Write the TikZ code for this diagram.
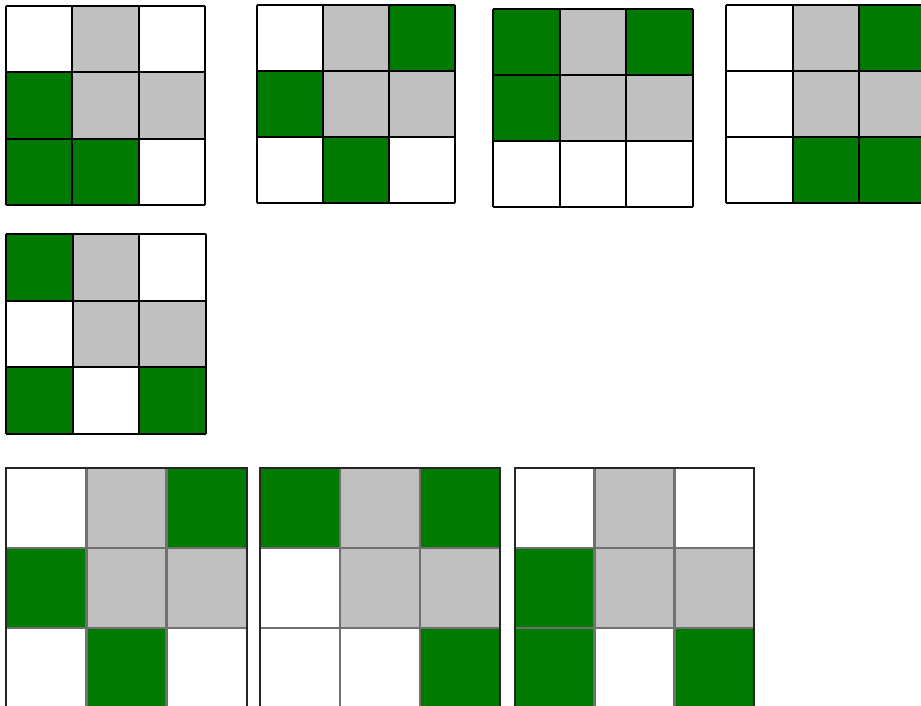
\documentclass[tikz,border=0pt]{standalone}
\definecolor{cW}{RGB}{255,255,255}
\definecolor{cG}{RGB}{192,192,192}
\definecolor{cK}{RGB}{0,122,0}
\definecolor{lineGray}{RGB}{112,112,112}
\tikzset{
  topline/.style={draw=black, line width=2pt},
  botinner/.style={draw=lineGray, line width=2.5pt},
  botouter/.style={draw=black!85, line width=1.5pt}
}
% #1 x, #2 y, #3 cell w, #4 cell h, #5 pattern
\newcommand\cellfill[5]{%
  \foreach \c [count=\i from 0] in {#5}{%
    \pgfmathtruncatemacro\row{floor(\i/3)}%
    \pgfmathtruncatemacro\col{mod(\i,3)}%
    \fill[c\c] ({#1+\col*#3},{#2+\row*#4}) rectangle ++(#3,#4);
  }%
}
\newcommand\topgrid[5]{%
  \cellfill{#1}{#2}{#3}{#4}{#5}%
  \foreach \k in {0,1,2,3}{%
    \draw[topline] ({#1+\k*#3},#2) -- ++(0,{3*#4});
    \draw[topline] (#1,{#2+\k*#4}) -- ++({3*#3},0);
  }%
}
\newcommand\botgrid[5]{%
  \cellfill{#1}{#2}{#3}{#4}{#5}%
  \foreach \k in {1,2}{%
    \draw[botinner] ({#1+\k*#3},#2) -- ++(0,{3*#4});
    \draw[botinner] (#1,{#2+\k*#4}) -- ++({3*#3},0);
  }%
  \draw[botouter] (#1,#2) rectangle ++({3*#3},{3*#4});
}
\begin{document}
\begin{tikzpicture}[x=1pt,y=-1pt]
  \useasboundingbox (0,0) rectangle (921,706);
  \fill[white] (0,0) rectangle (921,706);
  \clip (0,0) rectangle (921,706);
  % top row
  \topgrid{6}{6}{66.4}{66.4}{W,G,W,K,G,G,K,K,W}
  \topgrid{257}{5}{66}{66}{W,G,K,K,G,G,W,K,W}
  \topgrid{493}{9}{66.7}{66}{K,G,K,K,G,G,W,W,W}
  \topgrid{726}{5}{66.5}{66}{W,G,K,W,G,G,W,K,K}
  % second row
  \topgrid{6}{234}{66.7}{66.7}{K,G,W,W,G,G,K,W,K}
  % bottom row
  \botgrid{6}{468}{80.3}{80}{W,G,K,K,G,G,W,K,W}
  \botgrid{260}{468}{80}{80}{K,G,K,W,G,G,W,W,K}
  \botgrid{515}{468}{79.7}{80}{W,G,W,K,G,G,K,W,K}
\end{tikzpicture}
\end{document}
